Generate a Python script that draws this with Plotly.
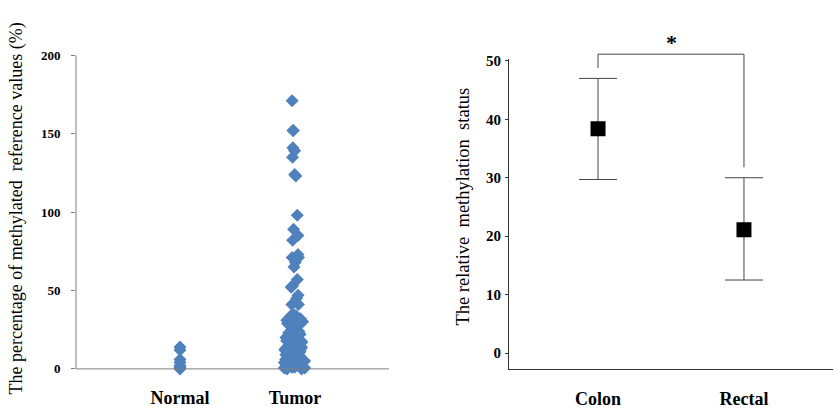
import plotly.graph_objects as go

W, H = 838, 419

# ---- Left panel data ----
scatter_categories = ["Normal", "Tumor"]
normal_values = [14, 12, 6, 4, 2, 1, 0]
tumor_values = [
    171, 152, 152, 141, 139, 135, 124, 123, 98, 89, 85, 82, 73, 71, 71, 68, 65, 57, 53,
    52, 47, 45, 41, 41,
    35, 34, 33, 33, 32, 31, 30, 30, 29, 28, 28, 27,
    24, 23, 22, 22, 21, 20, 20, 19, 18, 18, 17, 16, 16, 15, 15, 14, 14, 13, 13, 12, 12,
    11, 11, 10, 10, 9, 9, 8, 8, 7, 7, 6, 6, 5, 5, 4, 4, 3, 3, 2, 2, 2, 1, 1, 1, 0.5, 0.5, 0, 0,
]
left_yticks = [0, 50, 100, 150, 200]

# ---- Right panel data ----
groups = ["Colon", "Rectal"]
group_means = [38.4, 21.1]
err_plus = [8.6, 8.9]
err_minus = [8.7, 8.6]
right_yticks = [0, 10, 20, 30, 40, 50]

BLUE = "#4F81BD"
SERIF = "Liberation Serif"

fig = go.Figure()

fig.add_trace(go.Box(
    x=["Normal"] * len(normal_values), y=normal_values,
    boxpoints="all", jitter=0, pointpos=0, width=0.22,
    fillcolor="rgba(0,0,0,0)", line=dict(width=0, color="rgba(0,0,0,0)"),
    marker=dict(symbol="diamond", size=10, color=BLUE),
    hoveron="points", showlegend=False, xaxis="x", yaxis="y",
))
fig.add_trace(go.Box(
    x=["Tumor"] * len(tumor_values), y=tumor_values,
    boxpoints="all", jitter=1, pointpos=0, width=0.22,
    fillcolor="rgba(0,0,0,0)", line=dict(width=0, color="rgba(0,0,0,0)"),
    marker=dict(symbol="diamond", size=10, color=BLUE),
    hoveron="points", showlegend=False, xaxis="x", yaxis="y",
))

fig.add_trace(go.Scatter(
    x=groups, y=group_means, mode="markers",
    marker=dict(symbol="square", size=15, color="black"),
    error_y=dict(type="data", symmetric=False, array=err_plus, arrayminus=err_minus,
                 color="#444444", thickness=1, width=19),
    showlegend=False, xaxis="x2", yaxis="y2",
))

def px_y(p):
    return (H - p) / H

def px_x(p):
    return p / W

tick_font = dict(family=SERIF, size=13, color="black", weight="bold")
cat_font = dict(family=SERIF, size=18, color="black", weight="bold")

fig.update_layout(
    width=W, height=H,
    margin=dict(l=0, r=0, t=0, b=0),
    paper_bgcolor="white", plot_bgcolor="white",
    boxmode="overlay",
    showlegend=False,
    xaxis=dict(
        domain=[px_x(76), px_x(389)], type="category",
        categoryorder="array", categoryarray=scatter_categories,
        range=[-0.904, 1.817], showline=False, showgrid=False, zeroline=False,
        ticks="", tickfont=cat_font, ticklabelstandoff=7, fixedrange=True,
    ),
    yaxis=dict(
        domain=[px_y(377.6), px_y(49)], range=[-6, 200],
        tickvals=left_yticks, ticks="outside", ticklen=4, tickcolor="#7f7f7f",
        showline=False, showgrid=False, zeroline=False,
        tickfont=tick_font, ticklabelstandoff=8,
    ),
    xaxis2=dict(
        domain=[px_x(509), px_x(833)], type="category",
        categoryorder="array", categoryarray=groups,
        range=[-0.61, 1.61], showline=True, linecolor="#333333", linewidth=1,
        showgrid=False, zeroline=False, ticks="",
        tickfont=cat_font, ticklabelstandoff=14, anchor="y2",
    ),
    yaxis2=dict(
        domain=[px_y(368), px_y(53)], range=[-2.7, 50.3],
        tickvals=right_yticks, ticks="outside", ticklen=3, tickcolor="#333333",
        showline=True, linecolor="#333333", linewidth=1,
        showgrid=False, zeroline=False,
        tickfont=dict(family=SERIF, size=15, color="black", weight="bold"),
        ticklabelstandoff=1, anchor="x2",
    ),
)

axis_gray = "#7f7f7f"
shapes = [
    # left panel axis lines
    dict(type="line", xref="x domain", yref="y", x0=0, x1=0, y0=0, y1=200,
         line=dict(color=axis_gray, width=1)),
    dict(type="line", xref="x domain", yref="y", x0=0, x1=1, y0=0, y1=0,
         line=dict(color=axis_gray, width=1)),
    # significance bracket
    dict(type="line", xref="x2", yref="paper", x0=0, x1=1, y0=px_y(48), y1=px_y(48),
         line=dict(color="#444444", width=1)),
    dict(type="line", xref="x2", yref="paper", x0=0, x1=0, y0=px_y(48), y1=px_y(62),
         line=dict(color="#444444", width=1)),
    dict(type="line", xref="x2", yref="paper", x0=1, x1=1, y0=px_y(48), y1=px_y(163),
         line=dict(color="#444444", width=1)),
]
fig.update_layout(shapes=shapes)

fig.add_annotation(
    text="The percentage of methylated\u00a0 reference values (%)",
    xref="paper", yref="paper", x=px_x(17), y=px_y(205),
    textangle=-90, showarrow=False, xanchor="center", yanchor="middle",
    font=dict(family=SERIF, size=18, color="black"),
)
fig.add_annotation(
    text="The relative\u00a0 methylation\u00a0 status",
    xref="paper", yref="paper", x=px_x(463), y=px_y(203),
    textangle=-90, showarrow=False, xanchor="center", yanchor="middle",
    font=dict(family=SERIF, size=18.5, color="black"),
)
fig.add_annotation(
    text="*", xref="x2", yref="paper", x=0.5, y=px_y(36),
    showarrow=False, xanchor="center", yanchor="middle",
    font=dict(family=SERIF, size=22, color="black", weight="bold"),
)

fig.write_html(
    "out.html",
    config={"displayModeBar": False},
    post_script="document.body.style.margin='0';document.body.style.overflow='hidden';",
)
